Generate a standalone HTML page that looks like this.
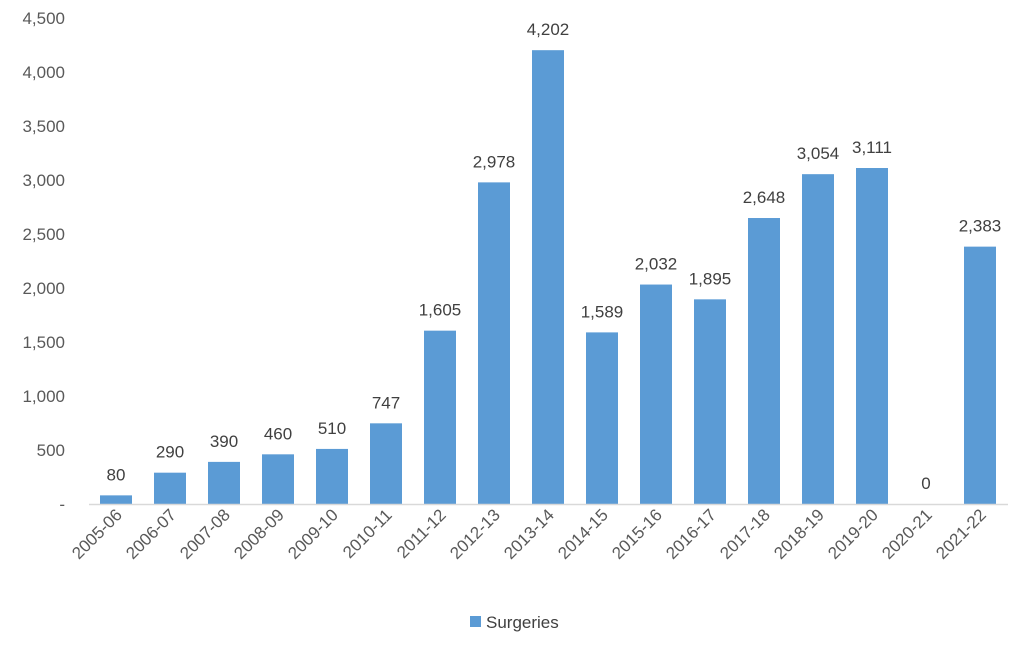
<!DOCTYPE html>
<html><head><meta charset="utf-8"><style>
body{margin:0;background:#fff;}
svg{display:block;font-family:"Liberation Sans",sans-serif;}
</style></head><body>
<svg id="chart" width="1024" height="646" viewBox="0 0 1024 646">
<g id="yticks"></g>
<g id="bars"></g>
<g id="vals"></g>
<g id="xlabs"></g>
<line x1="89" y1="504.5" x2="1008" y2="504.5" stroke="#d9d9d9" stroke-width="1.5"/>
<g>
<rect x="470" y="616" width="11" height="11" fill="#5b9bd5"/>
<text x="486" y="628" font-size="17" fill="#404040">Surgeries</text>
</g>
</svg>
<script>
const categories=["2005-06","2006-07","2007-08","2008-09","2009-10","2010-11","2011-12","2012-13","2013-14","2014-15","2015-16","2016-17","2017-18","2018-19","2019-20","2020-21","2021-22"];
const values=[80,290,390,460,510,747,1605,2978,4202,1589,2032,1895,2648,3054,3111,0,2383];
const yTicks=[0,500,1000,1500,2000,2500,3000,3500,4000,4500];
const NS="http://www.w3.org/2000/svg";
const y0=504,yTop=18,yMax=4500;
const y=v=>y0-(v/yMax)*(y0-yTop);
const x0=89,band=54;
const xc=i=>x0+band*(i+0.5);
const bw=32;
const fmt=v=>v===0?"0":v.toLocaleString("en-US");
function mk(tag,attrs,parent){const e=document.createElementNS(NS,tag);for(const k in attrs)e.setAttribute(k,attrs[k]);document.getElementById(parent).appendChild(e);return e;}
yTicks.forEach(t=>{
 const e=mk("text",{x:65,y:y(t)+6,"text-anchor":"end","font-size":"17",fill:"#595959"},"yticks");
 
 
 e.textContent=t===0?"-":t.toLocaleString("en-US");
});
categories.forEach((c,i)=>{
 const v=values[i];
 const r=mk("rect",{x:xc(i)-bw/2,y:y(v),width:bw,height:y0-y(v),fill:"#5b9bd5"},"bars");
 
 
 const t=mk("text",{x:xc(i),y:y(v)-15,"text-anchor":"middle","font-size":"17",fill:"#404040"},"vals");
 
 
 t.textContent=fmt(v);
 const xl=mk("text",{transform:`translate(${xc(i)+7},${y0+12}) rotate(-45)`,"text-anchor":"end","font-size":"17",fill:"#595959"},"xlabs");
 
 
 xl.textContent=c;
});
</script>
</body></html>
